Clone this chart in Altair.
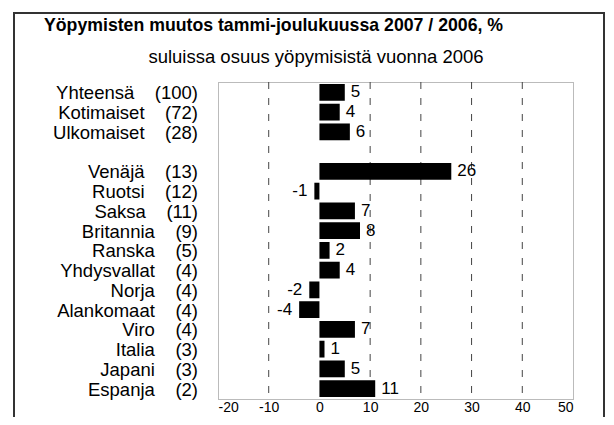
import altair as alt
import pandas as pd

names = ["Yhteensä", "Kotimaiset", "Ulkomaiset", "", "Venäjä", "Ruotsi", "Saksa",
         "Britannia", "Ranska", "Yhdysvallat", "Norja", "Alankomaat", "Viro",
         "Italia", "Japani", "Espanja"]
shares = [100, 72, 28, None, 13, 12, 11, 9, 5, 4, 4, 4, 4, 3, 3, 2]
changes = [5, 4, 6, None, 26, -1, 7, 8, 2, 4, -2, -4, 7, 1, 5, 11]
x_ticks = [-20, -10, 0, 10, 20, 30, 40, 50]
grid_vals = [-10, 10, 20, 30, 40]
title_text = "Yöpymisten muutos tammi-joulukuussa 2007 / 2006, %"
subtitle_text = "suluissa osuus  yöpymisistä vuonna 2006"

rows = list(range(len(names)))
df = pd.DataFrame({"row": rows, "name": names, "share": shares, "change": changes})
df["label"] = [
    (n + "\u00a0\u00a0\u00a0\u00a0(" + str(int(s)) + ")") if s is not None and s == s else ""
    for n, s in zip(names, shares)
]

W, H = 355, 317
FONT = "Arial, Liberation Sans, sans-serif"

xscale = alt.Scale(domain=[-20, 50], nice=False, zero=False)
yscale = alt.Scale(domain=rows, paddingInner=0.15, paddingOuter=0.1)
xaxis = alt.Axis(values=x_ticks, grid=False, ticks=False, domain=False,
                 labelFontSize=14, labelColor="black", labelPadding=1,
                 labelFont=FONT, title=None, labelBaseline="top",
                 labelExpr="'' + datum.value")


def X(field):
    return alt.X(field, scale=xscale, axis=xaxis)


base = alt.Chart(df)

frame = alt.Chart(alt.Data(values=[{}])).mark_rect(
    fill="transparent", stroke="#333333", strokeWidth=2
).encode(x=alt.value(-204), x2=alt.value(386), y=alt.value(-69), y2=alt.value(360))

grid = alt.Chart(pd.DataFrame({"v": grid_vals})).mark_rule(
    color="#444444", strokeWidth=1, strokeDash=[7, 9]
).encode(x=X("v:Q"))

bars = base.transform_filter("isValid(datum.change)").mark_bar(
    color="black"
).encode(
    x=X("change:Q"),
    x2=alt.datum(0),
    y=alt.Y("row:O", scale=yscale, axis=None),
)

pos_labels = base.transform_filter("isValid(datum.change) && datum.change > 0").transform_calculate(
    t="'' + datum.change"
).mark_text(
    align="left", baseline="middle", dx=6, fontSize=17, font=FONT, color="black"
).encode(x=X("change:Q"), y=alt.Y("row:O", scale=yscale, axis=None), text="t:N")

neg_labels = base.transform_filter("isValid(datum.change) && datum.change < 0").transform_calculate(
    t="'' + datum.change"
).mark_text(
    align="right", baseline="middle", dx=-7, fontSize=17, font=FONT, color="black"
).encode(x=X("change:Q"), y=alt.Y("row:O", scale=yscale, axis=None), text="t:N")

cat_labels = base.transform_filter("datum.label != ''").mark_text(
    align="right", baseline="middle", fontSize=18.5, font=FONT, color="black", dy=1
).encode(x=alt.value(-20), y=alt.Y("row:O", scale=yscale, axis=None), text="label:N")

title = alt.Chart(alt.Data(values=[{"t": title_text}])).mark_text(
    align="left", baseline="middle", fontSize=17.7, fontWeight="bold", font=FONT, color="black"
).encode(x=alt.value(-174), y=alt.value(-56), text="t:N")

subtitle = alt.Chart(alt.Data(values=[{"t": subtitle_text}])).mark_text(
    align="center", baseline="middle", fontSize=18.5, font=FONT, color="black"
).encode(x=alt.value(98), y=alt.value(-25), text="t:N")

chart = alt.layer(frame, grid, bars, pos_labels, neg_labels, cat_labels, title, subtitle).properties(
    width=W, height=H,
    autosize=alt.AutoSizeParams(type="none"),
    padding={"left": 210, "top": 74, "right": 33, "bottom": 18},
    background="white",
).configure_view(
    stroke="#777777", strokeWidth=1, strokeDash=[1, 1]
)

chart.save("out.html", embed_options={"renderer": "svg", "actions": False})
